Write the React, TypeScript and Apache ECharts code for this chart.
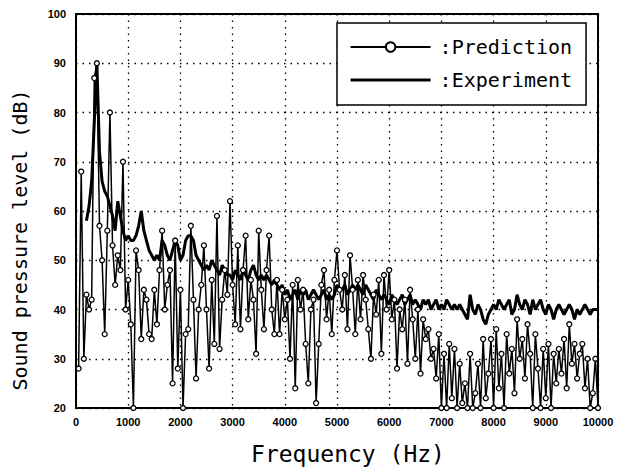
import React, { useEffect, useRef } from "react";
import * as echarts from "echarts";

// Frequency step of both spectra (Hz)
const FREQ_STEP = 50;
const PRED_START = 50;
const EXP_START = 200;

// Predicted sound pressure level (dB), 50 Hz .. 10000 Hz
const predictionDb: number[] = [
  28, 68, 30, 43, 40, 42, 87, 90, 57, 50,
  35, 56, 80, 53, 45, 51, 48, 70, 40, 46,
  37, 20, 52, 48, 34, 44, 42, 35, 34, 44,
  37, 48, 56, 40, 45, 48, 25, 54, 28, 44,
  20, 35, 36, 57, 42, 26, 40, 45, 53, 40,
  28, 46, 33, 59, 32, 42, 48, 43, 62, 45,
  37, 53, 36, 48, 55, 38, 46, 42, 31, 56,
  44, 36, 48, 55, 40, 35, 46, 35, 44, 38,
  42, 30, 45, 24, 46, 40, 44, 33, 25, 40,
  42, 21, 33, 45, 48, 38, 44, 35, 46, 52,
  44, 40, 47, 36, 51, 44, 35, 46, 38, 47,
  42, 36, 30, 43, 39, 46, 31, 47, 40, 48,
  38, 42, 28, 40, 36, 42, 29, 44, 38, 30,
  40, 27, 38, 34, 36, 30, 32, 26, 35, 20,
  31, 20, 33, 22, 32, 20, 29, 21, 25, 20,
  31, 20, 23, 29, 20, 34, 22, 27, 34, 20,
  36, 24, 31, 20, 35, 27, 32, 23, 38, 30,
  34, 26, 37, 31, 20, 35, 28, 20, 32, 22,
  33, 20, 31, 25, 32, 27, 34, 24, 37, 29,
  33, 26, 31, 33, 24, 30, 20, 23, 30, 20,
];

// Measured sound pressure level (dB), 200 Hz .. 10000 Hz
const experimentDb: number[] = [
  58, 61, 66, 78, 90, 72, 66, 64, 63, 61,
  59, 56, 62, 59, 56, 54, 55, 54, 54, 55,
  57, 60, 56, 54, 52, 51, 50, 51, 50, 54,
  53, 51, 50, 52, 54, 53, 50, 51, 54, 55,
  55, 54, 51, 50, 49, 48, 49, 48, 50, 49,
  48, 47, 49, 48, 47, 47, 46, 48, 47, 46,
  48, 47, 46, 48, 49, 47, 46, 47, 46, 47,
  46, 45, 46, 45, 44, 45, 43, 44, 42, 43,
  44, 42, 44, 43, 44, 42, 43, 44, 43, 42,
  43, 44, 42, 43, 42, 43, 45, 44, 44, 45,
  43, 44, 45, 44, 45, 44, 43, 45, 44, 43,
  42, 44, 43, 42, 43, 42, 41, 43, 42, 41,
  42, 43, 41, 42, 43, 41, 42, 41, 40, 42,
  41, 42, 40, 41, 42, 40, 41, 40, 42, 41,
  40, 41, 40, 41, 40, 39, 38, 43, 40, 39,
  41, 40, 38, 37, 39, 40, 41, 40, 42, 41,
  40, 41, 42, 39, 40, 43, 41, 40, 42, 41,
  39, 42, 40, 41, 42, 40, 39, 41, 40, 38,
  40, 41, 40, 39, 40, 41, 40, 38, 40, 39,
  40, 41, 40, 39, 40, 40, 40,
];

const X_MIN = 0;
const X_MAX = 10000;
const X_INTERVAL = 1000;
const Y_MIN = 20;
const Y_MAX = 100;
const Y_INTERVAL = 10;

const AXIS_NAME_X = "Frequency (Hz)";
const AXIS_NAME_Y = "Sound pressure level (dB)";
const SERIES_PRED = "Prediction";
const SERIES_EXP = "Experiment";

export default function App() {
  const ref = useRef<HTMLDivElement>(null);

  useEffect(() => {
    if (!ref.current) return;
    const chart = echarts.init(ref.current, null, { renderer: "svg" });

    const predData = predictionDb.map((v, i) => [PRED_START + i * FREQ_STEP, v]);
    const expData = experimentDb.map((v, i) => [EXP_START + i * FREQ_STEP, v]);

    const tickFont = {
      color: "#000",
      fontFamily: "Liberation Sans, Arial, sans-serif",
      fontWeight: "bold" as const,
      fontSize: 11,
    };
    const dotted = { color: "#000", width: 1.3, type: [1.5, 5] as number[] };

    chart.setOption({
      animation: false,
      backgroundColor: "#fff",
      grid: {
        left: 76,
        right: 31,
        top: 14,
        bottom: 65,
        show: true,
        borderColor: "#000",
        borderWidth: 2,
        backgroundColor: "transparent",
      },
      legend: {
        data: [
          { name: SERIES_PRED },
          {
            name: SERIES_EXP,
            itemStyle: { color: "rgba(0,0,0,0)", borderWidth: 0, opacity: 0 },
            lineStyle: { width: 3.2 },
          },
        ],
        orient: "vertical",
        left: 337,
        top: 23,
        itemWidth: 80,
        itemHeight: 12,
        itemGap: 13,
        padding: [14, 14, 15, 12],
        backgroundColor: "#fff",
        borderColor: "#000",
        borderWidth: 1.5,
        borderRadius: 0,
        formatter: (name: string) => ":" + name,
        textStyle: {
          color: "#000",
          fontFamily: "DejaVu Sans Mono, monospace",
          fontSize: 20,
          padding: [0, 0, 0, 4],
        },
      },
      xAxis: {
        type: "value",
        min: X_MIN,
        max: X_MAX,
        interval: X_INTERVAL,
        axisLine: { show: true, lineStyle: { color: "#000", width: 2 } },
        axisTick: { show: false },
        axisLabel: { ...tickFont, margin: 8, formatter: (v: number) => String(v) },
        splitLine: { show: true, lineStyle: dotted },
      },
      yAxis: {
        type: "value",
        min: Y_MIN,
        max: Y_MAX,
        interval: Y_INTERVAL,
        axisLine: { show: true, lineStyle: { color: "#000", width: 2 } },
        axisTick: { show: false },
        axisLabel: { ...tickFont, margin: 10, formatter: (v: number) => String(v) },
        splitLine: { show: true, lineStyle: dotted },
      },
      graphic: [
        {
          type: "text",
          x: 20,
          y: 240,
          rotation: Math.PI / 2,
          style: {
            text: AXIS_NAME_Y,
            fill: "#000",
            font: "20px 'DejaVu Sans Mono', monospace",
            textAlign: "center",
            textVerticalAlign: "middle",
          },
        },
        {
          type: "text",
          x: 348,
          y: 454,
          style: {
            text: AXIS_NAME_X,
            fill: "#000",
            font: "23px 'DejaVu Sans Mono', monospace",
            textAlign: "center",
            textVerticalAlign: "middle",
          },
        },
      ],
      series: [
        {
          name: SERIES_EXP,
          type: "line",
          data: expData,
          showSymbol: false,
          symbol: "none",
          lineStyle: { color: "#000", width: 3 },
          itemStyle: { color: "#000" },
          z: 2,
        },
        {
          name: SERIES_PRED,
          type: "line",
          data: predData,
          symbol: "circle",
          symbolSize: 5,
          showSymbol: true,
          lineStyle: { color: "#000", width: 1.5 },
          itemStyle: { color: "#fff", borderColor: "#000", borderWidth: 1.3 },
          z: 3,
        },
      ],
    });

    return () => chart.dispose();
  }, []);

  return <div ref={ref} style={{ width: 629, height: 473, position: "absolute", left: 0, top: 0 }} />;
}
